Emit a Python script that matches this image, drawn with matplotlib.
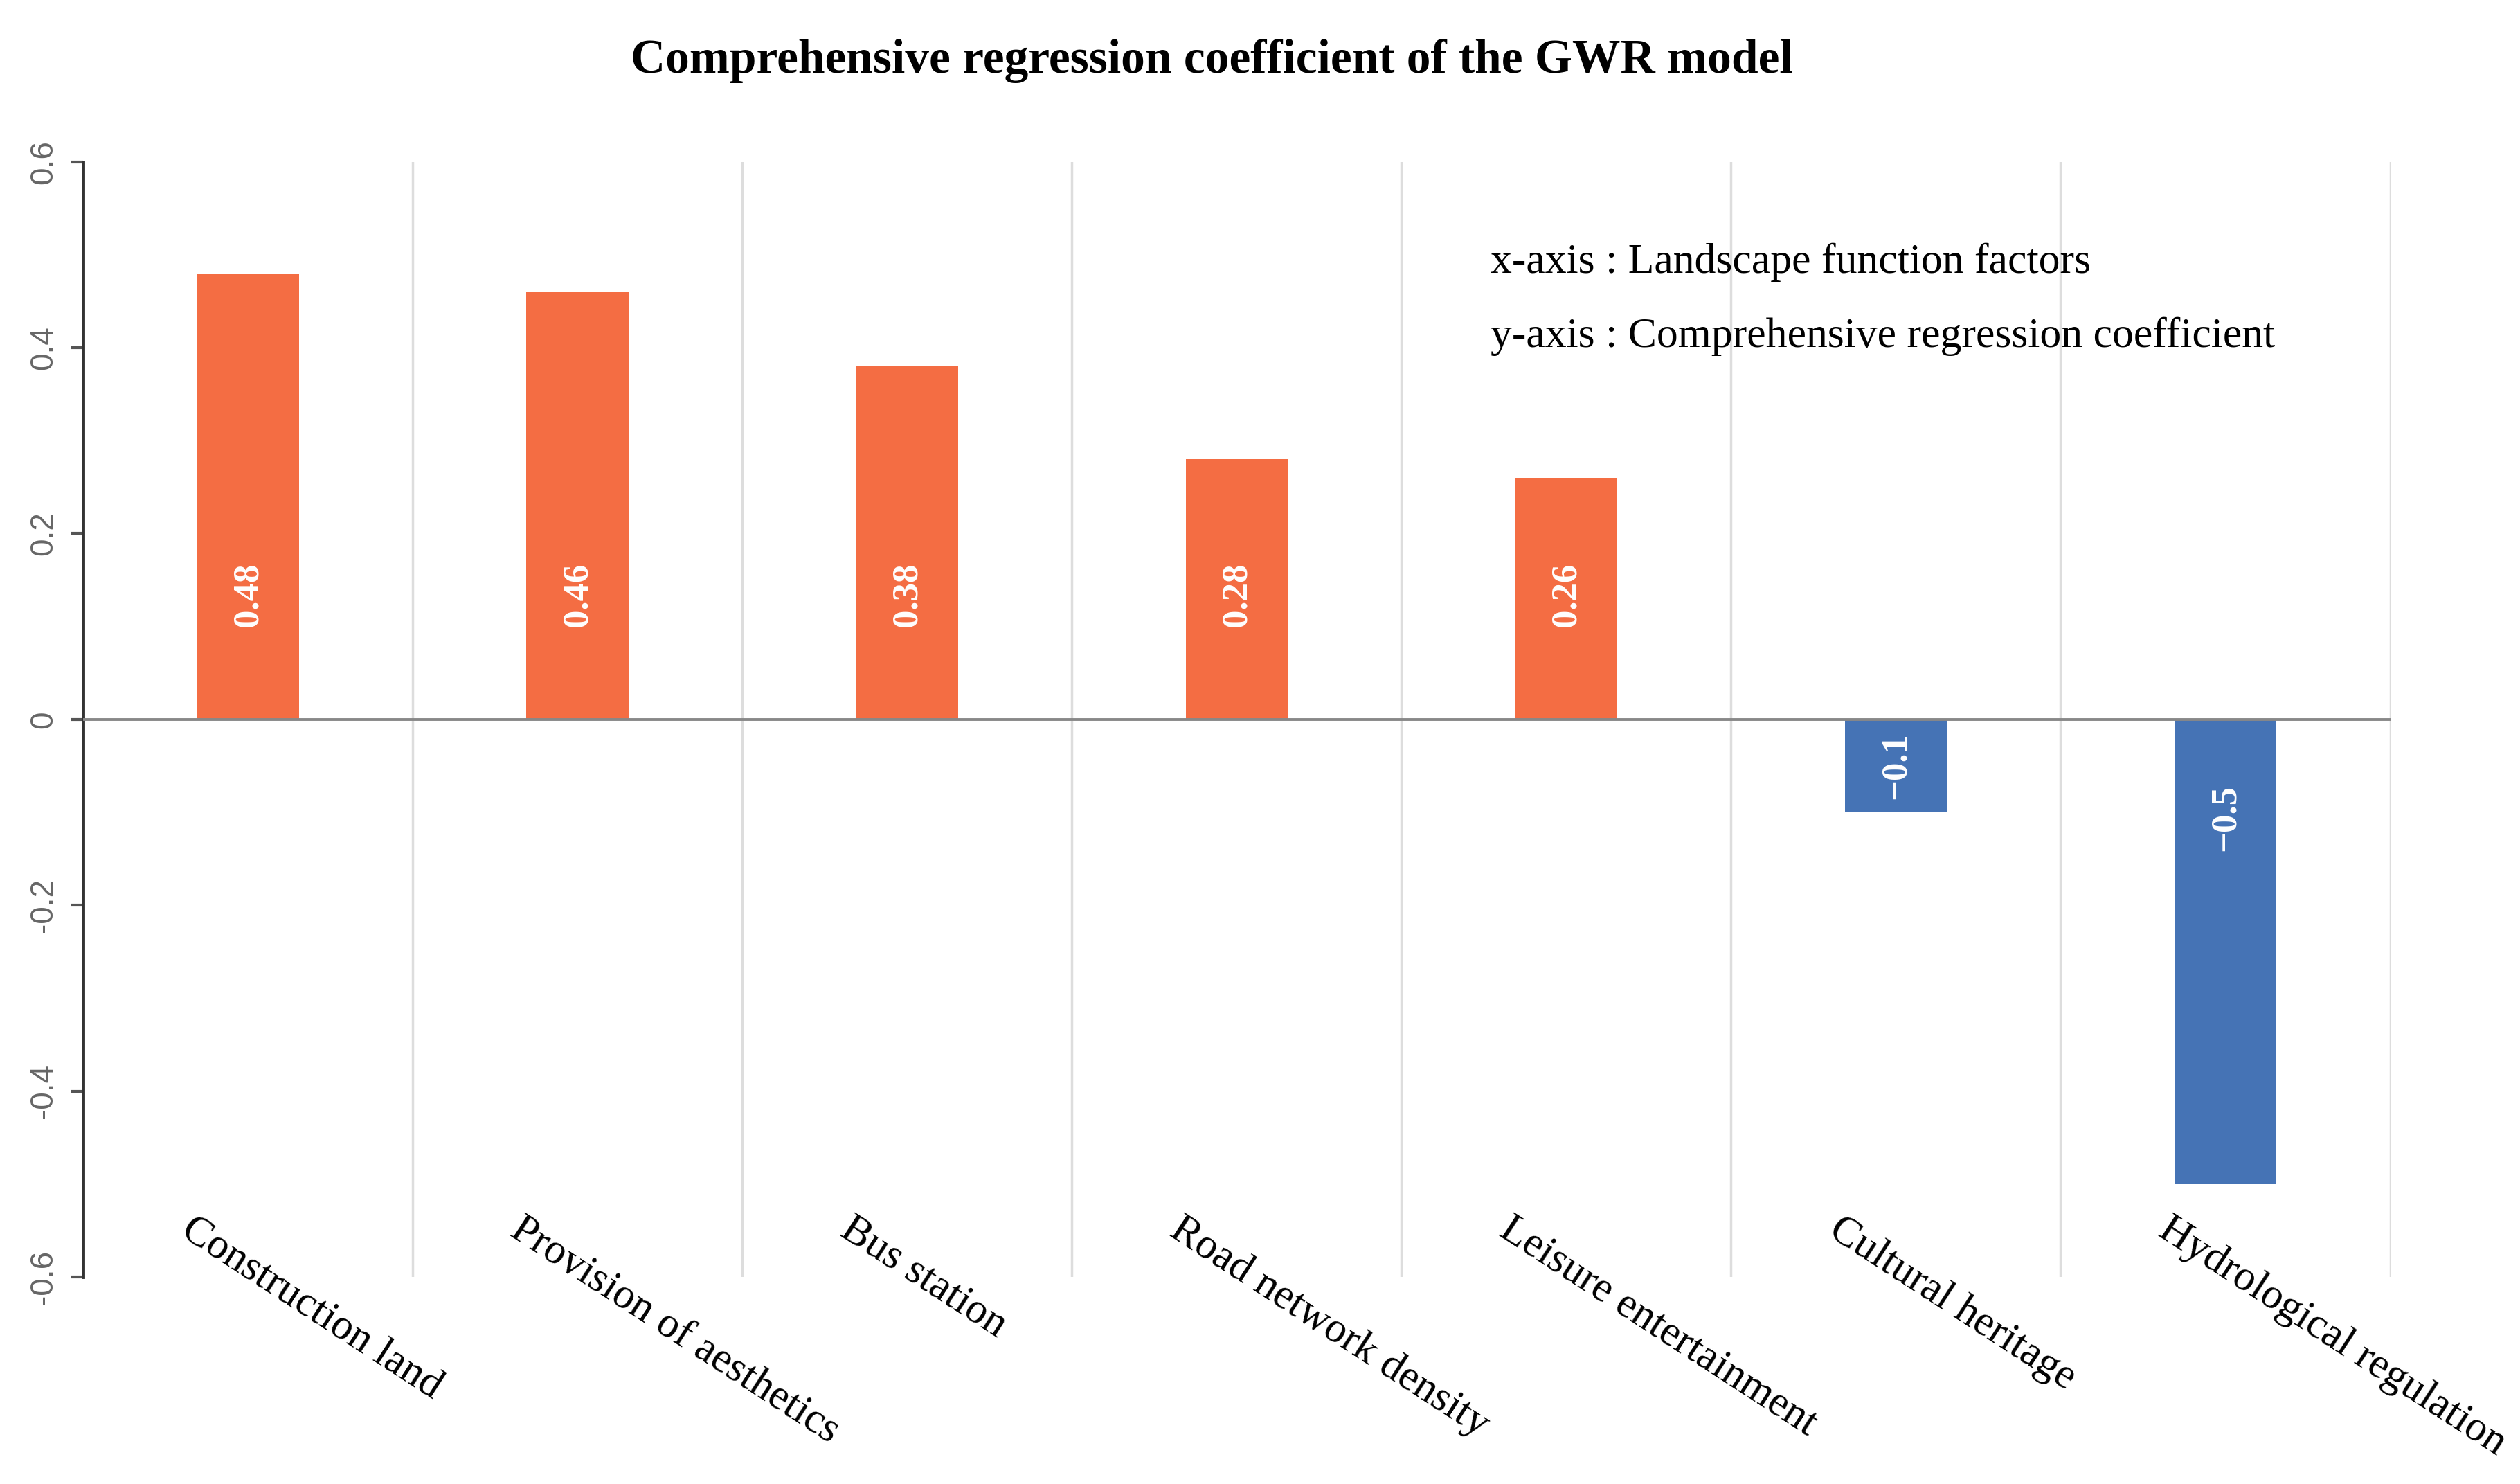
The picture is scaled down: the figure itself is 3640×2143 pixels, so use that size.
"""Comprehensive regression coefficient of the GWR model - bar chart."""

import matplotlib
matplotlib.use('Agg')
import matplotlib.pyplot as plt

#########################################################################################
# Data

categories = ['Construction land', 'Provision of aesthetics', 'Bus station',
              'Road network density', 'Leisure entertainment', 'Cultural heritage',
              'Hydrological regulation']
coefs = [0.48, 0.46, 0.38, 0.28, 0.26, -0.1, -0.5]
value_labels = ['0.48', '0.46', '0.38', '0.28', '0.26', '\u22120.1', '\u22120.5']
y_ticks = [-0.6, -0.4, -0.2, 0, 0.2, 0.4, 0.6]
y_tick_labels = ['-0.6', '-0.4', '-0.2', '0', '0.2', '0.4', '0.6']

#########################################################################################

POS_COLOR = '#F46D43'
NEG_COLOR = '#4573B5'
SERIF = 'Liberation Serif'

fig = plt.figure(figsize=(36.4, 21.43), dpi=100)
ax = fig.add_axes([0.033, 0.1395, 0.9155, 0.7515])

fig.text(0.481, 0.959, 'Comprehensive regression coefficient of the GWR model',
         ha='center', va='center', fontsize=50, fontweight='bold', family=SERIF)

xs = list(range(len(categories)))
colors = [POS_COLOR if v >= 0 else NEG_COLOR for v in coefs]
ax.bar(xs, coefs, width=0.31, color=colors, zorder=3)

# Vertical separators between categories
for i in range(len(categories)):
    ax.axvline(i + 0.5, color='#dddddd', lw=2.5, zorder=1)

# Zero line
ax.axhline(0, color='#888888', lw=2.8, zorder=4)

ax.set_xlim(-0.5, len(categories) - 0.5)
ax.set_ylim(-0.6, 0.6)

# Spines and ticks
for side in ['top', 'right', 'bottom']:
    ax.spines[side].set_visible(False)
ax.spines['left'].set_linewidth(3.5)
ax.spines['left'].set_color('#333333')

ax.set_xticks([])
ax.set_yticks(y_ticks)
ax.set_yticklabels(y_tick_labels, rotation=90, va='center', color='#666666',
                   fontsize=33, family='Liberation Sans')
ax.tick_params(axis='y', length=13, width=3, color='#555555', pad=12)

# Value labels inside the bars
for x, v, lab in zip(xs, coefs, value_labels):
    if v >= 0:
        ax.text(x, 0.134, lab, rotation=90, ha='center', va='center', color='white',
                fontsize=38, fontweight='bold', family=SERIF, zorder=5)
    else:
        ax.text(x, v * 0.14, lab, rotation=90, ha='center', va='top',
                color='white', fontsize=38, fontweight='bold', family=SERIF, zorder=5)

# Category labels, slanted
for x, name in zip(xs, categories):
    ax.text(x - 0.16, 0.06, name, transform=ax.get_xaxis_transform(), rotation=-33,
            rotation_mode='anchor', ha='left', va='top', fontsize=44, family=SERIF,
            zorder=5)

# Axis annotation
ax.text(3.77, 0.492, 'x-axis : Landscape function factors', ha='left', va='center',
        fontsize=44.5, family=SERIF, zorder=5)
ax.text(3.77, 0.412, 'y-axis : Comprehensive regression coefficient', ha='left',
        va='center', fontsize=44.5, family=SERIF, zorder=5)

fig.savefig('out.png', dpi=100, facecolor='white')
